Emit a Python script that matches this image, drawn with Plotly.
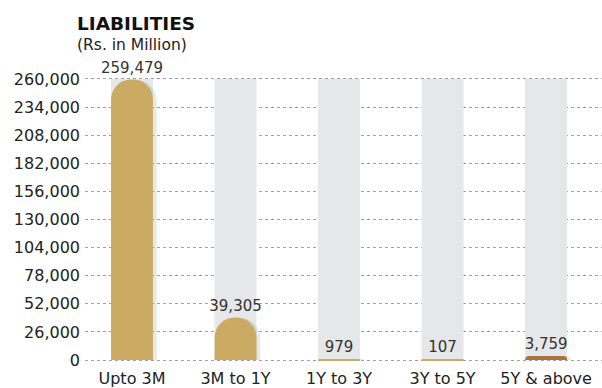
import plotly.graph_objects as go

# Maturity buckets and liability amounts (Rs. in Million)
categories = ["Upto 3M", "3M to 1Y", "1Y to 3Y", "3Y to 5Y", "5Y & above"]
liabilities = [259479, 39305, 979, 107, 3759]
value_labels = ["259,479", "39,305", "979", "107", "3,759"]
bar_colors = ["#cbab64", "#cbab64", "#cbab64", "#cbab64", "#a8743a"]

# Axis scale
axis_max = 260000
tick_vals = [0, 26000, 52000, 78000, 104000, 130000, 156000, 182000, 208000, 234000, 260000]
tick_text = ["0", "26,000", "52,000", "78,000", "104,000", "130,000", "156,000",
             "182,000", "208,000", "234,000", "260,000"]

FONT = "DejaVu Sans, Verdana, sans-serif"
BAR_W = 0.405
X_RANGE = [-0.454, 4.54]
Y_RANGE = [-4600, axis_max + 4600]

fig = go.Figure()

# grey backdrop columns spanning the full scale (main axes, under the gridded plot)
fig.add_trace(go.Bar(
    x=categories, y=[axis_max] * len(categories), width=BAR_W,
    marker=dict(color="#e6e7e8", line=dict(width=0)),
    hoverinfo="skip", showlegend=False,
))

# soft shadow to the right of each bar (overlay axes so the rounding is per bar)
fig.add_trace(go.Bar(
    x=categories, y=liabilities, width=BAR_W, offset=-BAR_W / 2 + 0.035,
    marker=dict(color="rgba(70,70,70,0.13)", line=dict(width=0), cornerradius="50%"),
    hoverinfo="skip", showlegend=False, xaxis="x2", yaxis="y2",
))

# liability bars with rounded tops
fig.add_trace(go.Bar(
    x=categories, y=liabilities, width=BAR_W,
    marker=dict(color=bar_colors, line=dict(width=0), cornerradius="50%"),
    text=value_labels, textposition="outside", cliponaxis=False,
    constraintext="none",
    textfont=dict(family=FONT, size=15, color="#333333"),
    showlegend=False, xaxis="x2", yaxis="y2",
))

fig.update_layout(
    width=602, height=388,
    margin=dict(l=85, r=0, t=74, b=20),
    barmode="overlay",
    plot_bgcolor="white", paper_bgcolor="white",
    font=dict(family=FONT, size=16, color="#222222"),
    xaxis=dict(
        range=X_RANGE, showgrid=False, zeroline=False, showline=False,
        ticks="", tickfont=dict(family=FONT, size=16, color="#222222"),
        ticklabelstandoff=2,
    ),
    yaxis=dict(
        range=Y_RANGE, tickvals=tick_vals, ticktext=tick_text,
        showgrid=True, gridcolor="#a0a0a0", griddash="3px,3px", gridwidth=1,
        zeroline=False, showline=False, ticks="",
        tickfont=dict(family=FONT, size=16, color="#222222"),
        ticklabelstandoff=4,
    ),
    xaxis2=dict(
        overlaying="x", range=X_RANGE, showgrid=False, zeroline=False,
        showline=False, showticklabels=False, ticks="",
    ),
    yaxis2=dict(
        overlaying="y", range=Y_RANGE, showgrid=False, zeroline=False,
        showline=False, showticklabels=False, ticks="",
    ),
    annotations=[
        dict(text="<b>LIABILITIES</b>", xref="paper", yref="paper",
             x=-0.02, y=1.0, xanchor="left", yanchor="bottom", yshift=38,
             showarrow=False, font=dict(family=FONT, size=18.5, color="#111111")),
        dict(text="(Rs. in Million)", xref="paper", yref="paper",
             x=-0.02, y=1.0, xanchor="left", yanchor="bottom", yshift=18,
             showarrow=False, font=dict(family=FONT, size=15.5, color="#222222")),
    ],
)

fig.write_html("out.html")
